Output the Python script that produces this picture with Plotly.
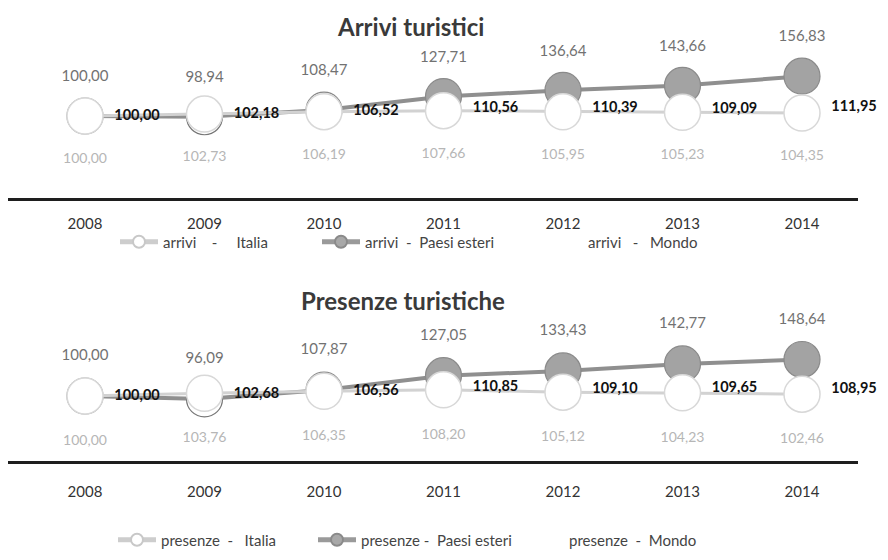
import plotly.graph_objects as go

years = [2008, 2009, 2010, 2011, 2012, 2013, 2014]
year_labels = ["2008", "2009", "2010", "2011", "2012", "2013", "2014"]

arrivi_italia = [100.00, 102.73, 106.19, 107.66, 105.95, 105.23, 104.35]
arrivi_esteri = [100.00, 98.94, 108.47, 127.71, 136.64, 143.66, 156.83]
arrivi_mondo = [100.00, 102.18, 106.52, 110.56, 110.39, 109.09, 111.95]

presenze_italia = [100.00, 103.76, 106.35, 108.20, 105.12, 104.23, 102.46]
presenze_esteri = [100.00, 96.09, 107.87, 127.05, 133.43, 142.77, 148.64]
presenze_mondo = [100.00, 102.68, 106.56, 110.85, 109.10, 109.65, 108.95]

titles = ["Arrivi turistici", "Presenze turistiche"]

NB = "\u00a0"
legend_names = [
    [f"arrivi{NB*4}-{NB*5}Italia", f"arrivi{NB*2}-{NB*2}Paesi{NB}esteri", f"arrivi{NB*3}-{NB*3}Mondo"],
    [f"presenze{NB*2}-{NB*3}Italia", f"presenze{NB}-{NB*2}Paesi{NB}esteri", f"presenze{NB*2}-{NB*2}Mondo"],
]

# per-point marker styling of the "Paesi esteri" series (first years drawn hollow, as in the source)
esteri_fill = ["#ffffff", "#ffffff", "#ffffff", "#a3a3a3", "#a3a3a3", "#a3a3a3", "#a3a3a3"]
esteri_edge = ["#9a9a9a", "#777777", "#888888", "#8a8a8a", "#8a8a8a", "#8a8a8a", "#8a8a8a"]


def fmt(v):
    return f"{v:.2f}".replace(".", ",")


FONT = "Lato, 'Liberation Sans Narrow', 'DejaVu Sans', sans-serif"
W, H = 888, 560
OX, OY = 8, 8  # page body offset of the rendered figure

fig = go.Figure()

panels = [
    dict(it=arrivi_italia, es=arrivi_esteri, mo=arrivi_mondo, xa="x", xm="x3", ya="y",
         legs=["legend", "legend2", "legend3"], es_lbl=48, it_lbl=57),
    dict(it=presenze_italia, es=presenze_esteri, mo=presenze_mondo, xa="x2", xm="x4", ya="y2",
         legs=["legend4", "legend5", "legend6"], es_lbl=50, it_lbl=60),
]

for i, p in enumerate(panels):
    names = legend_names[i]
    # legend entries
    fig.add_trace(go.Scatter(
        x=[None], y=[None], xaxis=p["xa"], yaxis=p["ya"], mode="lines+markers",
        name=names[0], legend=p["legs"][0],
        line=dict(color="#cdcdcd", width=4),
        marker=dict(size=9, color="#ffffff", line=dict(color="#c8c8c8", width=1.5)),
    ))
    fig.add_trace(go.Scatter(
        x=[None], y=[None], xaxis=p["xa"], yaxis=p["ya"], mode="lines+markers",
        name=names[1], legend=p["legs"][1],
        line=dict(color="#9a9a9a", width=4),
        marker=dict(size=9, color="#a8a8a8", line=dict(color="#8a8a8a", width=1)),
    ))
    fig.add_trace(go.Scatter(
        x=[None], y=[None], xaxis=p["xa"], yaxis=p["ya"], mode="lines",
        name=names[2], legend=p["legs"][2],
        line=dict(color="rgba(0,0,0,0)", width=2),
    ))

    # Paesi esteri (drawn first, underneath)
    fig.add_trace(go.Scatter(
        x=years, y=p["es"], xaxis=p["xa"], yaxis=p["ya"], mode="lines+markers",
        showlegend=False,
        line=dict(color="#8f8f8f", width=4),
        marker=dict(size=36, color=esteri_fill, line=dict(color=esteri_edge, width=1.2)),
        cliponaxis=False, hoverinfo="skip",
    ))
    # Italia (white markers on top)
    fig.add_trace(go.Scatter(
        x=years, y=p["it"], xaxis=p["xa"], yaxis=p["ya"], mode="lines+markers",
        showlegend=False,
        line=dict(color="#d2d2d2", width=3),
        marker=dict(size=36, color="#ffffff", line=dict(color="#d8d8d8", width=1.5)),
        cliponaxis=False, hoverinfo="skip",
    ))
    # value labels
    fig.add_trace(go.Scatter(
        x=years, y=p["es"], xaxis=p["xa"], yaxis=p["ya"], mode="markers+text",
        showlegend=False,
        marker=dict(size=p["es_lbl"], color="rgba(0,0,0,0)"),
        text=[fmt(v) for v in p["es"]], textposition="top center",
        textfont=dict(family=FONT, size=15, color="#727272"),
        cliponaxis=False, hoverinfo="skip",
    ))
    fig.add_trace(go.Scatter(
        x=years, y=p["it"], xaxis=p["xa"], yaxis=p["ya"], mode="markers+text",
        showlegend=False,
        marker=dict(size=p["it_lbl"], color="rgba(0,0,0,0)"),
        text=[fmt(v) for v in p["it"]], textposition="bottom center",
        textfont=dict(family=FONT, size=14, color="#b6b6b6"),
        cliponaxis=False, hoverinfo="skip",
    ))
    # Mondo (labels only, offset half a category)
    fig.add_trace(go.Scatter(
        x=years, y=p["mo"], xaxis=p["xm"], yaxis=p["ya"], mode="text",
        showlegend=False,
        text=[f"<b>{fmt(v)}</b>" for v in p["mo"]], textposition="middle center",
        textfont=dict(family=FONT, size=14.5, color="#111111"),
        cliponaxis=False, hoverinfo="skip",
    ))

# layout geometry (pixels of the reference picture, corrected for the page offset)
x_left, x_right = 8 - OX, 858 - OX
px_2008, px_2014 = 85 - OX, 802 - OX
step = (px_2014 - px_2008) / 6
xr = [2008 - (px_2008 - x_left) / step, 2014 + (x_right - px_2014) / step]
xdom = [x_left / W, x_right / W]
# half-category shifted axis spanning the full width (for the Mondo labels)
mid_2008 = 137 - OX
xr_shift = [2008 - mid_2008 / step, 2008 + (W - mid_2008) / step]


def yrange(top_px, bot_px, v100_px, slope):
    return [100 - (bot_px - v100_px) / slope, 100 + (v100_px - top_px) / slope]


top_area = (40 - OY, 198 - OY)
bot_area = (320 - OY, 461 - OY)
yr_top = yrange(top_area[0], top_area[1], 116 - OY, 0.70)
yr_bot = yrange(bot_area[0], bot_area[1], 396 - OY, 0.75)


def xaxis_common(ticklen, anchor):
    return dict(
        domain=xdom, range=xr, tickmode="array", tickvals=years, ticktext=year_labels,
        showgrid=False, zeroline=False, showline=True, linecolor="#1e1e1e", linewidth=3,
        ticks="outside", ticklen=ticklen, tickcolor="rgba(0,0,0,0)", anchor=anchor,
        tickfont=dict(family=FONT, size=15, color="#333333"),
    )


def legend_cfg(x_px, y_px):
    return dict(orientation="h", xanchor="left", yanchor="middle",
                x=(x_px - OX) / W, y=1 - (y_px - OY) / H,
                font=dict(family=FONT, size=15, color="#444444"), bgcolor="rgba(0,0,0,0)",
                itemsizing="constant", itemwidth=38)


fig.update_layout(
    width=W, height=H,
    margin=dict(l=0, r=0, t=0, b=0),
    paper_bgcolor="#ffffff", plot_bgcolor="rgba(0,0,0,0)",
    xaxis=xaxis_common(10, "y"),
    xaxis2=xaxis_common(15, "y2"),
    xaxis3=dict(domain=[0, 1], range=xr_shift, anchor="y", visible=False),
    xaxis4=dict(domain=[0, 1], range=xr_shift, anchor="y2", visible=False),
    yaxis=dict(domain=[1 - top_area[1] / H, 1 - top_area[0] / H], range=yr_top, visible=False),
    yaxis2=dict(domain=[1 - bot_area[1] / H, 1 - bot_area[0] / H], range=yr_bot, visible=False),
    legend=legend_cfg(115, 242),
    legend2=legend_cfg(317, 242),
    legend3=legend_cfg(540, 242),
    legend4=legend_cfg(113, 540),
    legend5=legend_cfg(313, 540),
    legend6=legend_cfg(521, 540),
    annotations=[
        dict(text=f"<b>{titles[0]}</b>", x=(410 - OX) / W, y=1 - (27 - OY) / H, xref="paper", yref="paper",
             xanchor="center", yanchor="middle",
             showarrow=False, font=dict(family=FONT, size=24, color="#3a3a3a")),
        dict(text=f"<b>{titles[1]}</b>", x=(403 - OX) / W, y=1 - (300 - OY) / H, xref="paper", yref="paper",
             xanchor="center", yanchor="middle",
             showarrow=False, font=dict(family=FONT, size=24, color="#3a3a3a")),
    ],
    showlegend=True,
)

fig.write_html("out.html")
